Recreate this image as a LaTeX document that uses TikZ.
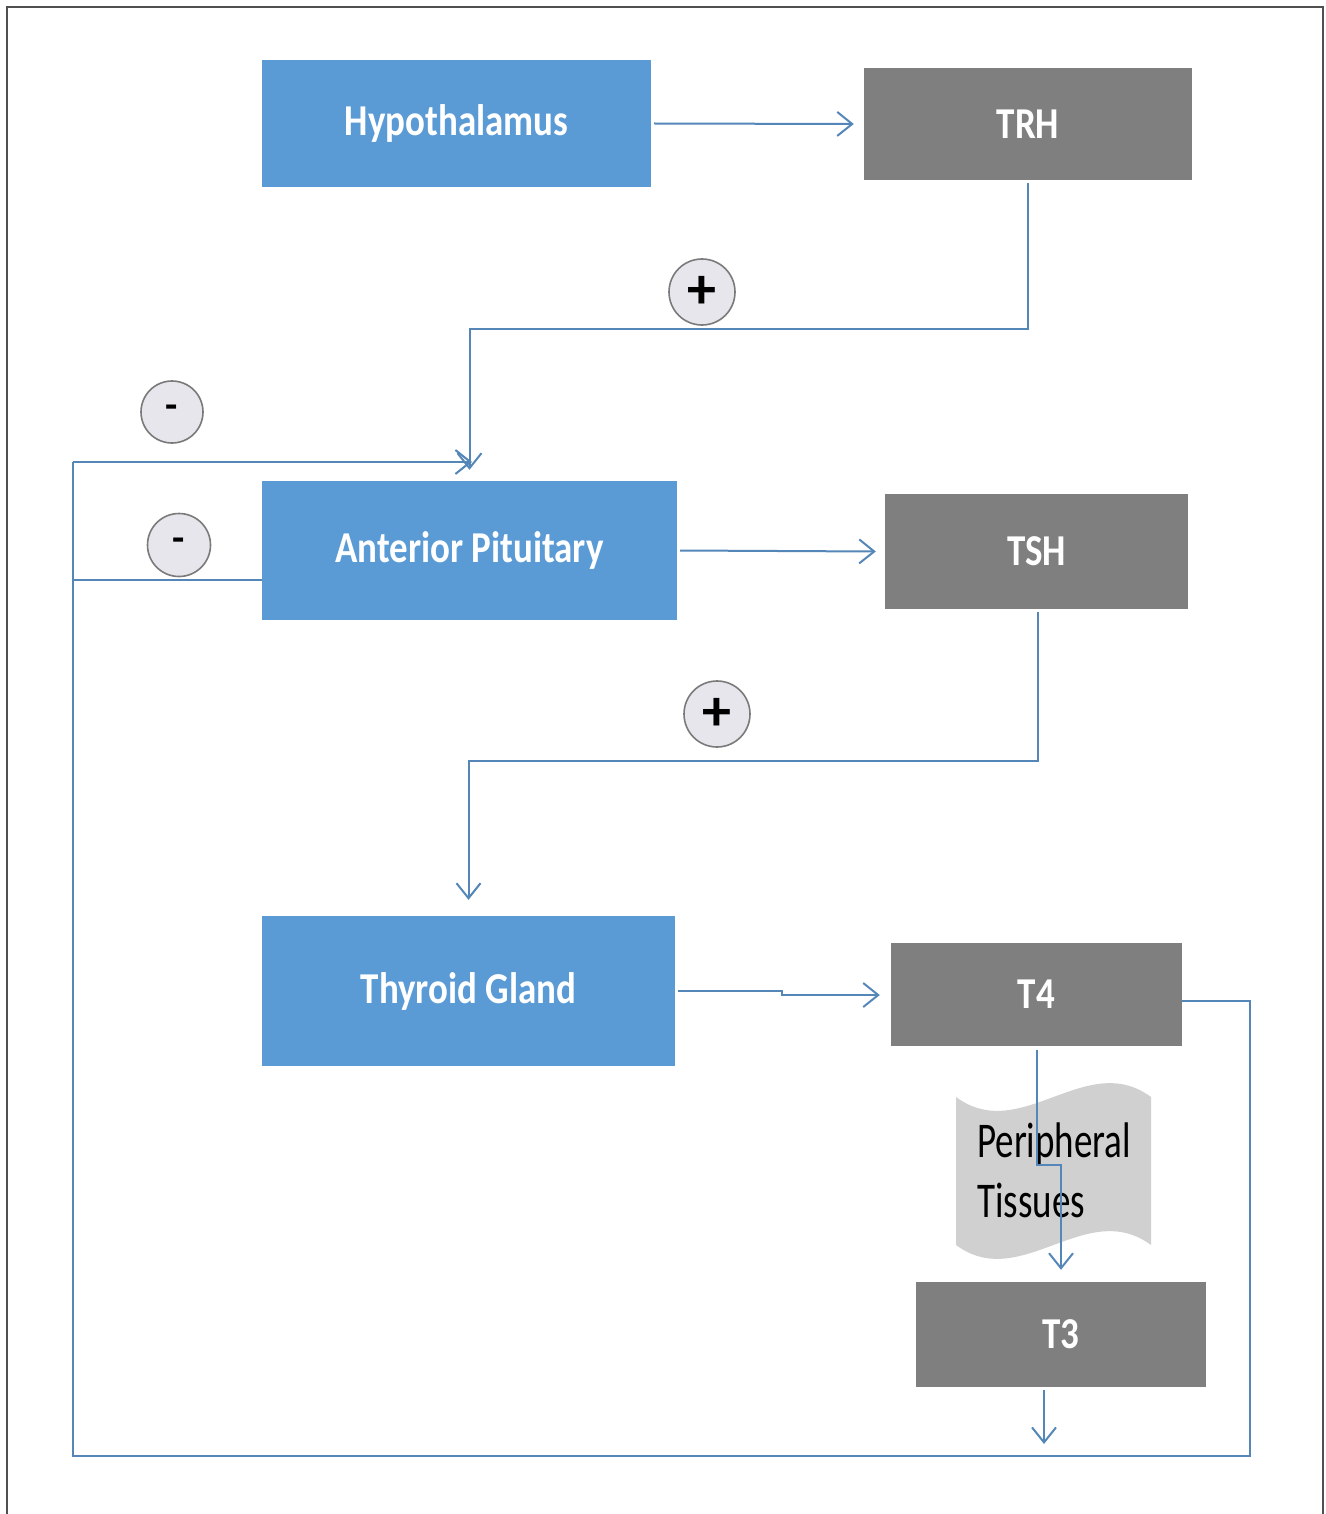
\documentclass[tikz,border=0pt]{standalone}
\usepackage{graphicx}
\usepackage{fontspec}
\setmainfont{Carlito}
\usetikzlibrary{arrows.meta}
\definecolor{boxblue}{HTML}{5B9BD5}
\definecolor{boxgray}{HTML}{7F7F7F}
\definecolor{arrblue}{HTML}{5487B8}
\definecolor{tapegray}{HTML}{D0D0D0}
\definecolor{circfill}{HTML}{E6E6EC}
\definecolor{circline}{HTML}{7A7A7A}
\definecolor{framegray}{HTML}{505050}
\newcommand{\hbx}[1]{\scalebox{0.88}[1.05]{#1}}
\newcommand{\ptx}[1]{\scalebox{0.74}[1]{#1}}
\tikzset{
  bluebox/.style={fill=boxblue, draw=none, inner sep=0pt, text=white,
    font=\fontsize{42}{50}\selectfont\bfseries},
  graybox/.style={fill=boxgray, draw=none, inner sep=0pt, text=white,
    font=\fontsize{42}{50}\selectfont\bfseries},
  arr/.style={draw=arrblue, line width=2pt, -{Straight Barb[length=15pt,width=24pt,line width=2pt]}},
  fb/.style={draw=arrblue, line width=2pt},
  sign/.style={circle, fill=circfill, draw=circline, line width=1.6pt, inner sep=0pt,
    font=\fontsize{40}{40}\selectfont\bfseries},
  plussign/.style={sign, font=\fontsize{58}{58}\selectfont\bfseries},
  ptext/.style={inner sep=0pt, anchor=base west, text=black, font=\fontsize{50}{60}\selectfont},
}
\begin{document}
\begin{tikzpicture}[x=1pt,y=-1pt]
\useasboundingbox (0,0) rectangle (1325,1514);
\fill[white] (0,0) rectangle (1325,1514);
% frame
\draw[framegray, line width=2pt] (7,1516) -- (7,7) -- (1323,7) -- (1323,1516);

% boxes
\node[bluebox, minimum width=389pt, minimum height=127pt] (hyp) at (456.5,123.5) {\hbx{Hypothalamus}};
\node[graybox, minimum width=328pt, minimum height=112pt] (trh) at (1028,124) {\hbx{TRH}};
\node[bluebox, minimum width=415pt, minimum height=139pt] (ap) at (469.5,550.5) {\hbx{Anterior Pituitary}};
\node[graybox, minimum width=303pt, minimum height=115pt] (tsh) at (1036.5,551.5) {\hbx{TSH}};
\node[bluebox, minimum width=413pt, minimum height=150pt] (tg) at (468.5,991) {\hbx{Thyroid Gland}};
\node[graybox, minimum width=291pt, minimum height=103pt] (t4) at (1036.5,994.5) {\hbx{T4}};
\node[graybox, minimum width=290pt, minimum height=105pt] (t3) at (1061,1334.5) {\hbx{T3}};

% peripheral tissues tape shape
\fill[tapegray] (956,1097) .. controls (1021,1145) and (1086,1049) .. (1151,1097)
  -- (1151,1245) .. controls (1086,1197) and (1021,1293) .. (956,1245) -- cycle;
\node[ptext] (peri1) at (977,1157) {\ptx{Peripheral}};
\node[ptext] (peri2) at (977,1217) {\ptx{Tissues}};

% sign circles
\node[plussign, minimum size=66pt] (p1) at (702,292) {+};
\node[plussign, minimum size=66pt] (p2) at (717,714) {+};
\node[sign, minimum size=62pt] (m1) at (172,412) {-};
\node[sign, minimum size=63pt] (m2) at (179,545) {-};

% coordinates
\coordinate (c1) at (1028,329);
\coordinate (c2) at (1038,761);
\coordinate (c3) at (782,991);
\coordinate (c4) at (1036.5,1165);
\coordinate (fbTR) at (1250,1001);
\coordinate (fbBR) at (1250,1456);
\coordinate (fbBL) at (73,1456);
\coordinate (fbTL) at (73,462);
\coordinate (fbMid) at (73,580);
\coordinate (fbEnd) at (472,462);
\coordinate (t3end) at (1044,1444);

% connectors
\draw[arr] ([xshift=3pt]hyp.east) -- ([xshift=-10pt]trh.west);
\draw[arr] ([yshift=-3pt]trh.south) -- (c1) -| ([yshift=11pt]ap.north);
\draw[arr] ([xshift=3pt]ap.east) -- ([xshift=-9pt]tsh.west);
\draw[arr] ([xshift=1.5pt,yshift=-3pt]tsh.south) -- (c2) -| ([yshift=16pt]tg.north);
\draw[arr] ([xshift=3pt]tg.east) -- (c3) -- ++(0,4) -- ([xshift=-11pt,yshift=-0.5pt]t4.west);
\draw[arr] ([yshift=-4pt]t4.south) -- (c4) -| ([yshift=12pt]t3.north);
\draw[arr] (t3.south -| t3end) ++(0,3) -- (t3end);
\draw[fb] ([yshift=-6.5pt]t4.east) -- (fbTR) -- (fbBR) -- (fbBL) -- (fbTL);
\draw[arr] (fbTL) -- (fbEnd);
\draw[fb] (fbMid) -- (fbMid -| ap.west);
\end{tikzpicture}
\end{document}
